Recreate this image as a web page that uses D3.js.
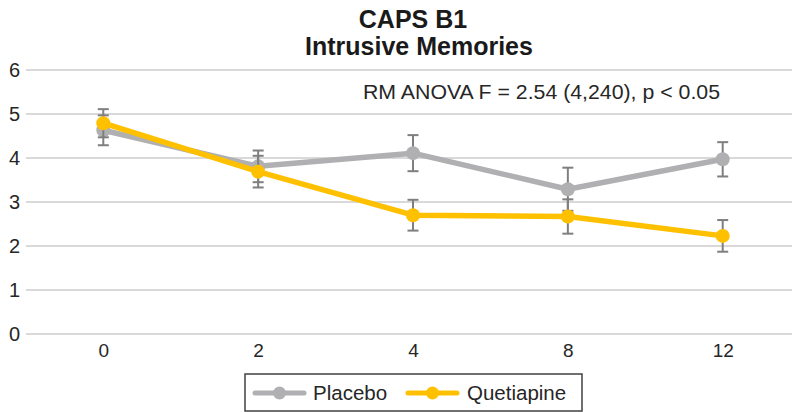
<!DOCTYPE html>
<html><head><meta charset="utf-8">
<script src="https://cdn.jsdelivr.net/npm/d3@7"></script>
<style>body{margin:0;background:#fff}svg{display:block}text{font-family:"Liberation Sans",Arial,sans-serif}</style>
</head><body><svg id="c" width="792" height="412"></svg>
<script>
const weeks = ["0","2","4","8","12"];
const yTicks = [0,1,2,3,4,5,6];
const placebo = [4.63, 3.81, 4.11, 3.29, 3.97];
const placeboErr = [0.34, 0.36, 0.41, 0.49, 0.39];
const quetiapine = [4.79, 3.69, 2.70, 2.67, 2.23];
const quetiapineErr = [0.32, 0.36, 0.35, 0.39, 0.36];
const seriesNames = ["Placebo", "Quetiapine"];
const colors = ["#B0B0B3", "#FFC000"];

const svg = d3.select("#c");
const x = d3.scalePoint().domain(weeks).range([103.3, 722.7]);
const y = d3.scaleLinear().domain([0,6]).range([334,70]);

// grid
svg.append("g").selectAll("line").data(yTicks).join("line")
  .attr("x1",26).attr("x2",792).attr("y1",d=>y(d)).attr("y2",d=>y(d))
  .attr("stroke","#D9D9D9").attr("stroke-width",2);

// y axis labels
const ya = svg.append("g").attr("transform","translate(20,0)")
  .call(d3.axisLeft(y).tickValues(yTicks).tickFormat(d3.format("d")).tickSize(0).tickPadding(0));
ya.select(".domain").remove();
ya.selectAll("text").attr("font-size",20).attr("fill","#262626").attr("font-family","Liberation Sans, Arial, sans-serif");

// x axis labels
const xa = svg.append("g").attr("transform","translate(0,343)")
  .call(d3.axisBottom(x).tickSize(0).tickPadding(0));
xa.select(".domain").remove();
xa.selectAll("text").attr("font-size",19).attr("fill","#262626").attr("font-family","Liberation Sans, Arial, sans-serif");

const series = [
  {name: seriesNames[0], vals: placebo, err: placeboErr, color: colors[0]},
  {name: seriesNames[1], vals: quetiapine, err: quetiapineErr, color: colors[1]}
];
const line = d3.line().x((d,i)=>x(weeks[i])).y(d=>y(d));
series.forEach(s => {
  const g = svg.append("g");
  const eb = g.append("g").attr("stroke","#7F7F7F").attr("stroke-width",2);
  s.vals.forEach((v,i) => {
    const cx = x(weeks[i]);
    eb.append("line").attr("x1",cx).attr("x2",cx).attr("y1",y(v+s.err[i])).attr("y2",y(v-s.err[i]));
    eb.append("line").attr("x1",cx-5.5).attr("x2",cx+5.5).attr("y1",y(v+s.err[i])).attr("y2",y(v+s.err[i]));
    eb.append("line").attr("x1",cx-5.5).attr("x2",cx+5.5).attr("y1",y(v-s.err[i])).attr("y2",y(v-s.err[i]));
  });
  g.append("path").attr("d",line(s.vals)).attr("fill","none").attr("stroke",s.color).attr("stroke-width",5.5).attr("stroke-linejoin","round");
  g.selectAll("circle").data(s.vals).join("circle")
    .attr("cx",(d,i)=>x(weeks[i])).attr("cy",d=>y(d)).attr("r",7).attr("fill",s.color);
});

// title
svg.append("text").attr("x",413).attr("y",28).attr("text-anchor","middle").attr("font-size",25).attr("font-weight","bold").attr("fill","#1a1a1a").text("CAPS B1");
svg.append("text").attr("x",419).attr("y",55).attr("text-anchor","middle").attr("font-size",25).attr("font-weight","bold").attr("fill","#1a1a1a").text("Intrusive Memories");

// annotation
svg.append("text").attr("x",363).attr("y",99).attr("font-size",21).attr("fill","#262626").attr("textLength",357).attr("lengthAdjust","spacingAndGlyphs").text("RM ANOVA F = 2.54 (4,240), p < 0.05");

// legend
const lg = svg.append("g");
lg.append("rect").attr("x",245).attr("y",374).attr("width",337).attr("height",37).attr("fill","#fff").attr("stroke","#404040").attr("stroke-width",1.5);
const lx = [255, 408], tx = [313, 467];
series.forEach((s,i) => {
  lg.append("line").attr("x1",lx[i]).attr("x2",lx[i]+49).attr("y1",393).attr("y2",393).attr("stroke",s.color).attr("stroke-width",5).attr("stroke-linecap","round");
  lg.append("circle").attr("cx",lx[i]+24.5).attr("cy",393).attr("r",6.5).attr("fill",s.color);
  lg.append("text").attr("x",tx[i]).attr("y",400).attr("font-size",20.5).attr("fill","#262626").text(s.name);
});
</script></body></html>
